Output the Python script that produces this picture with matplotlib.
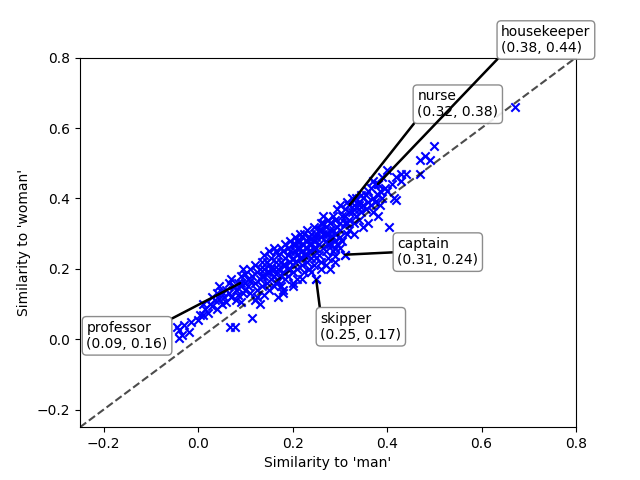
import matplotlib
matplotlib.use("Agg")
import matplotlib.pyplot as plt

# similarity of occupation words to 'man' / 'woman'
sim_man = [
    -0.045, -0.035, -0.04, -0.03, -0.02, -0.015, -0.04,
    0.0, 0.005, 0.01, 0.01, 0.015, 0.02, 0.025, 0.03, 0.03, 0.035, 0.04, 0.04, 0.045, 0.045, 0.05, 0.05,
    0.055, 0.06, 0.06, 0.065, 0.068, 0.07, 0.07, 0.075, 0.078, 0.08, 0.08, 0.085, 0.085, 0.09, 0.09,
    0.095, 0.095, 0.1, 0.1, 0.1, 0.065, 0.09,
    0.105, 0.105, 0.11, 0.11, 0.115, 0.115, 0.12, 0.12, 0.12, 0.125, 0.125, 0.13, 0.13, 0.13, 0.135,
    0.135, 0.14, 0.14, 0.14, 0.14, 0.145, 0.145, 0.15, 0.15, 0.15, 0.15, 0.11, 0.125, 0.135, 0.145,
    0.155, 0.155, 0.16, 0.16, 0.16, 0.165, 0.165, 0.17, 0.17, 0.17, 0.17, 0.175, 0.175, 0.175, 0.18,
    0.18, 0.18, 0.185, 0.185, 0.185, 0.19, 0.19, 0.19, 0.19, 0.195, 0.195, 0.195, 0.2, 0.2, 0.2,
    0.2, 0.2, 0.155, 0.165, 0.175, 0.185, 0.165, 0.18, 0.16, 0.195,
    0.205, 0.205, 0.205, 0.21, 0.21, 0.21, 0.21, 0.215, 0.215, 0.215, 0.22, 0.22, 0.22, 0.22, 0.225,
    0.225, 0.225, 0.23, 0.23, 0.23, 0.23, 0.235, 0.235, 0.235, 0.24, 0.24, 0.24, 0.24, 0.245, 0.245,
    0.245, 0.25, 0.25, 0.25, 0.25, 0.25, 0.21, 0.22, 0.23, 0.24, 0.215, 0.205, 0.235, 0.245, 0.245,
    0.255, 0.255, 0.255, 0.26, 0.26, 0.26, 0.265, 0.265, 0.265, 0.27, 0.27, 0.27, 0.275, 0.275, 0.275,
    0.28, 0.28, 0.28, 0.28, 0.285, 0.285, 0.285, 0.29, 0.29, 0.29, 0.29, 0.295, 0.295, 0.295, 0.3,
    0.3, 0.3, 0.3, 0.26, 0.27, 0.28, 0.29, 0.275, 0.265, 0.285,
    0.305, 0.305, 0.31, 0.31, 0.31, 0.315, 0.315, 0.32, 0.32, 0.32, 0.325, 0.325, 0.33, 0.33, 0.33,
    0.335, 0.335, 0.34, 0.34, 0.34, 0.345, 0.345, 0.35, 0.35, 0.35, 0.31, 0.32, 0.33, 0.34, 0.315,
    0.355, 0.355, 0.36, 0.36, 0.365, 0.365, 0.37, 0.37, 0.375, 0.375, 0.38, 0.38, 0.38, 0.385, 0.39,
    0.39, 0.395, 0.4, 0.4, 0.36, 0.37, 0.385,
    0.405, 0.41, 0.415, 0.42, 0.42, 0.43, 0.43, 0.44, 0.47, 0.47, 0.48, 0.49, 0.5, 0.67,
    0.27, 0.29, 0.24, 0.22, 0.26, 0.3, 0.2, 0.18,
    0.09, 0.25, 0.31, 0.32, 0.38,
]
sim_woman = [
    0.035, 0.012, 0.004, 0.04, 0.02, 0.048, 0.025,
    0.055, 0.07, 0.068, 0.1, 0.085, 0.075, 0.1, 0.095, 0.12, 0.11, 0.085, 0.13, 0.115, 0.15, 0.1, 0.135,
    0.12, 0.105, 0.14, 0.13, 0.035, 0.17, 0.12, 0.15, 0.035, 0.11, 0.14, 0.16, 0.125, 0.15, 0.18,
    0.13, 0.2, 0.16, 0.14, 0.185, 0.16, 0.105,
    0.17, 0.15, 0.2, 0.13, 0.06, 0.18, 0.16, 0.21, 0.11, 0.19, 0.14, 0.17, 0.2, 0.1, 0.22,
    0.15, 0.18, 0.24, 0.125, 0.2, 0.16, 0.22, 0.19, 0.25, 0.14, 0.21, 0.165, 0.12, 0.18, 0.19,
    0.17, 0.23, 0.2, 0.26, 0.15, 0.22, 0.185, 0.24, 0.12, 0.2, 0.165, 0.26, 0.22, 0.15, 0.19,
    0.25, 0.21, 0.27, 0.23, 0.17, 0.2, 0.26, 0.24, 0.18, 0.28, 0.22, 0.25, 0.21, 0.27, 0.23,
    0.19, 0.16, 0.2, 0.25, 0.18, 0.21, 0.16, 0.14, 0.18, 0.2,
    0.25, 0.29, 0.22, 0.28, 0.24, 0.2, 0.17, 0.26, 0.3, 0.23, 0.27, 0.21, 0.25, 0.29, 0.24,
    0.3, 0.19, 0.26, 0.28, 0.22, 0.31, 0.25, 0.29, 0.2, 0.27, 0.3, 0.23, 0.25, 0.32, 0.28,
    0.21, 0.26, 0.3, 0.23, 0.17, 0.29, 0.26, 0.23, 0.24, 0.285, 0.28, 0.27, 0.27, 0.26, 0.24,
    0.31, 0.27, 0.24, 0.33, 0.29, 0.22, 0.3, 0.26, 0.35, 0.28, 0.32, 0.25, 0.3, 0.34, 0.23,
    0.29, 0.33, 0.27, 0.2, 0.31, 0.35, 0.25, 0.3, 0.34, 0.28, 0.22, 0.32, 0.37, 0.27, 0.33,
    0.29, 0.38, 0.31, 0.31, 0.3, 0.31, 0.26, 0.27, 0.33, 0.29,
    0.35, 0.28, 0.24, 0.33, 0.37, 0.3, 0.39, 0.38, 0.34, 0.31, 0.36, 0.4, 0.33, 0.38, 0.3,
    0.35, 0.4, 0.37, 0.34, 0.39, 0.36, 0.41, 0.38, 0.32, 0.4, 0.35, 0.36, 0.37, 0.38, 0.33,
    0.41, 0.37, 0.39, 0.42, 0.38, 0.43, 0.4, 0.36, 0.44, 0.39, 0.41, 0.44, 0.35, 0.42, 0.4,
    0.46, 0.43, 0.48, 0.42, 0.33, 0.45, 0.38,
    0.32, 0.44, 0.4, 0.395, 0.46, 0.45, 0.47, 0.47, 0.47, 0.51, 0.52, 0.51, 0.55, 0.66,
    0.21, 0.235, 0.19, 0.17, 0.2, 0.26, 0.15, 0.13,
    0.16, 0.17, 0.24, 0.38, 0.44,
]

# annotated words and where their labels sit (offset points from the mark)
words = ["professor", "skipper", "captain", "nurse", "housekeeper"]
word_man = [0.09, 0.25, 0.31, 0.32, 0.38]
word_woman = [0.16, 0.17, 0.24, 0.38, 0.44]
label_offsets = [(-111, -49), (3, -45), (38, -9), (49, 62), (89, 93)]

fig, ax = plt.subplots(figsize=(6.4, 4.8), dpi=100)
ax.scatter(sim_man, sim_woman, marker="x", color="b")
ax.plot([-0.25, 0.8], [-0.25, 0.8], "--", color="k", alpha=0.7)

for w, x, y, off in zip(words, word_man, word_woman, label_offsets):
    ax.annotate(f"{w}\n({x:.2f}, {y:.2f})", xy=(x, y), xytext=off,
                textcoords="offset points", ha="left", va="bottom",
                bbox=dict(boxstyle="round,pad=0.3", fc="w", ec="gray", alpha=0.9),
                arrowprops=dict(facecolor="black", edgecolor="black",
                                width=0.8, headwidth=0.8, headlength=0.8, shrink=0))

ax.set_xlim(-0.25, 0.8)
ax.set_ylim(-0.25, 0.8)
ax.set_xlabel("Similarity to 'man'")
ax.set_ylabel("Similarity to 'woman'")

plt.savefig("out.png", dpi=100)
